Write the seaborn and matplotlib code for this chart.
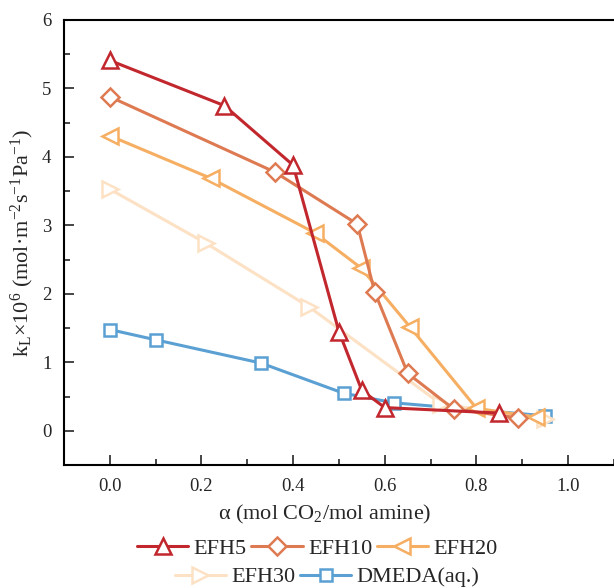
import matplotlib

matplotlib.use('Agg')

import matplotlib.pyplot as plt
from matplotlib.ticker import MultipleLocator
import seaborn as sns
import pandas as pd

# loading (mol CO2 / mol amine) and kL x 1e6 for each solvent
efh5_x = [0.0, 0.25, 0.40, 0.50, 0.55, 0.60, 0.85]
efh5_y = [5.41, 4.75, 3.88, 1.45, 0.59, 0.34, 0.26]

efh10_x = [0.0, 0.36, 0.54, 0.578, 0.65, 0.75, 0.89]
efh10_y = [4.88, 3.78, 3.02, 2.03, 0.84, 0.32, 0.19]

efh20_x = [0.0, 0.22, 0.448, 0.548, 0.656, 0.80, 0.93]
efh20_y = [4.31, 3.69, 2.89, 2.38, 1.51, 0.33, 0.20]

efh30_x = [0.0, 0.21, 0.435, 0.723, 0.95]
efh30_y = [3.53, 2.74, 1.81, 0.39, 0.18]

dmeda_x = [0.0, 0.10, 0.33, 0.51, 0.62, 0.95]
dmeda_y = [1.48, 1.33, 0.99, 0.55, 0.41, 0.22]

series = [
    ('EFH5', efh5_x, efh5_y, '^', '#c1272d', 11, 5),
    ('EFH10', efh10_x, efh10_y, 'D', '#de7a52', 9.5, 4),
    ('EFH20', efh20_x, efh20_y, '<', '#f6ae62', 11, 3),
    ('EFH30', efh30_x, efh30_y, '>', '#fde1c4', 11, 2.5),
    ('DMEDA(aq.)', dmeda_x, dmeda_y, 's', '#5ba0d3', 8.5, 2),
]

sns.set_style('ticks')

plt.rcParams['font.family'] = ['Liberation Serif', 'DejaVu Serif']
plt.rcParams['mathtext.fontset'] = 'custom'
plt.rcParams['mathtext.rm'] = 'Liberation Serif'
plt.rcParams['mathtext.it'] = 'Liberation Serif:italic'

fig = plt.figure(
    figsize=(6.14, 5.88),
    dpi=100,
)

ax = fig.add_axes([0.104, 0.209, 0.896, 0.757])

for name, xs, ys, marker, color, msize, z in series:

    df = pd.DataFrame({'x': xs, 'y': ys})

    sns.lineplot(
        data=df,
        x='x',
        y='y',
        sort=False,
        ax=ax,
        color=color,
        linewidth=2.2,
        marker=marker,
        markersize=msize,
        markerfacecolor='white',
        markeredgecolor=color,
        markeredgewidth=1.8,
        label=name,
        zorder=z,
    )

ax.set_xlim(-0.1, 1.1)
ax.set_ylim(-0.5, 6)

ax.xaxis.set_major_locator(MultipleLocator(0.2))
ax.xaxis.set_minor_locator(MultipleLocator(0.1))
ax.yaxis.set_major_locator(MultipleLocator(1))
ax.yaxis.set_minor_locator(MultipleLocator(0.5))

ax.set_xticks([0.0, 0.2, 0.4, 0.6, 0.8, 1.0])
ax.set_xticklabels(['0.0', '0.2', '0.4', '0.6', '0.8', '1.0'])

ax.tick_params(
    which='both',
    direction='in',
    labelsize=13.5,
    width=1.2,
    pad=9,
    right=False,
    top=False,
)
ax.tick_params(which='major', length=7)
ax.tick_params(which='minor', length=4)

for spine in ax.spines.values():
    spine.set_linewidth(1.5)
    spine.set_color('black')

ax.spines['right'].set_visible(False)

ax.set_xlabel(
    r'α (mol CO$_\mathregular{2}$/mol amine)',
    fontsize=16,
)
ax.xaxis.set_label_coords(0.475, -0.085)

ax.set_ylabel(
    r'k$_\mathregular{L}$×10$^\mathregular{6}$ (mol·m$^\mathregular{-2}$s$^\mathregular{-1}$Pa$^\mathregular{-1}$)',
    fontsize=16,
    labelpad=4,
)

handles, labels = ax.get_legend_handles_labels()
ax.legend_.remove()

legend_kw = dict(
    frameon=False,
    fontsize=16,
    handlelength=2.3,
    handletextpad=0.25,
    columnspacing=0.2,
    borderpad=0.0,
)

# two rows, each centred on its own
fig.legend(
    handles[:3],
    labels[:3],
    loc='center',
    bbox_to_anchor=(0.517, 1 - 549 / 588),
    ncol=3,
    **legend_kw,
)

fig.legend(
    handles[3:],
    labels[3:],
    loc='center',
    bbox_to_anchor=(0.533, 1 - 577 / 588),
    ncol=2,
    **legend_kw,
)

plt.savefig('out.png', dpi=100)
plt.close()
